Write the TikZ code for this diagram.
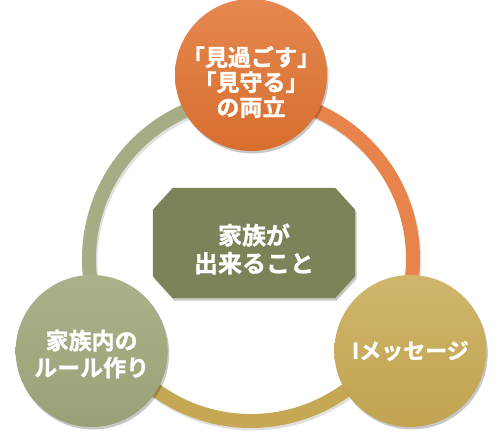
\documentclass[tikz,border=0pt]{standalone}
\usepackage{fontspec}
\newfontfamily\jpfont{Noto Sans CJK JP}[UprightFont=* Bold, UprightFeatures={FakeBold=1.2}]
\usetikzlibrary{calc,shadows}
\definecolor{topOrange}{RGB}{229,136,80}
\definecolor{topOrangeDark}{RGB}{216,110,46}
\definecolor{leftSage}{RGB}{170,178,138}
\definecolor{leftSageDark}{RGB}{152,161,118}
\definecolor{rightGold}{RGB}{207,182,108}
\definecolor{rightGoldDark}{RGB}{193,163,80}
\definecolor{midOlive}{RGB}{125,130,88}
\definecolor{ringOrange}{RGB}{232,131,76}
\definecolor{ringGold}{RGB}{198,167,83}
\definecolor{ringSage}{RGB}{165,173,132}

\tikzset{
  bubble/.style={circle, minimum size=152pt, inner sep=0pt,
    drop shadow={shadow xshift=1.5pt, shadow yshift=-2.5pt, opacity=.22, fill=black}},
  caption/.style={align=center, text=white, inner sep=0pt,
    font=\jpfont\fontsize{23}{25}\selectfont},
  ringarc/.style={line width=14pt, line cap=butt}
}

\begin{document}
\begin{tikzpicture}[x=1pt,y=1pt]
\useasboundingbox (0,0) rectangle (501,446);

\coordinate (hub) at (251,187);

% ring pieces, coloured after the circle they leave
\draw[ringarc, black, opacity=.12] ($(hub)+(1.5,-2.5)$) circle[radius=162];
\draw[ringarc, ringOrange] ($(hub)+(90:162)$) arc[start angle=90, end angle=-30, radius=162];
\draw[ringarc, ringGold] ($(hub)+(-30:162)$) arc[start angle=-30, end angle=-150, radius=162];
\draw[ringarc, ringSage] ($(hub)+(210:162)$) arc[start angle=210, end angle=90, radius=162];

% three circles
\node[bubble, top color=topOrange, bottom color=topOrangeDark] (watch) at ($(hub)+(90:184)$) {};
\node[bubble, top color=leftSage, bottom color=leftSageDark] (rules) at ($(hub)+(210:184)$) {};
\node[bubble, top color=rightGold, bottom color=rightGoldDark] (imsg) at ($(hub)+(330:184)$) {};

\node[caption] (watchtext) at ($(watch)+(0,-7)$) {「見過ごす」\\「見守る」\\の両立};
\node[caption, font=\jpfont\fontsize{23}{27}\selectfont] (rulestext) at ($(rules)+(0,-3)$) {家族内の\\ルール作り};
\node[caption, font=\jpfont\fontsize{22}{27}\selectfont] (imsgtext) at (imsg) {Iメッセージ};

% middle box: octagon cut from the corners of the text box
\node[minimum width=202pt, minimum height=110pt, inner sep=0pt] (goal) at (254,203) {};
\fill[midOlive, drop shadow={shadow xshift=1.5pt, shadow yshift=-2.5pt, opacity=.22, fill=black}]
  ($(goal.north west)+(20,0)$) -- ($(goal.north east)+(-20,0)$)
  -- ($(goal.north east)+(0,-22)$) -- ($(goal.south east)+(0,22)$)
  -- ($(goal.south east)+(-20,0)$) -- ($(goal.south west)+(20,0)$)
  -- ($(goal.south west)+(0,22)$) -- ($(goal.north west)+(0,-22)$) -- cycle;
\node[caption, font=\jpfont\fontsize{24}{28}\selectfont] (goaltext) at ($(goal)+(0,-6)$) {家族が\\出来ること};
\end{tikzpicture}
\end{document}
